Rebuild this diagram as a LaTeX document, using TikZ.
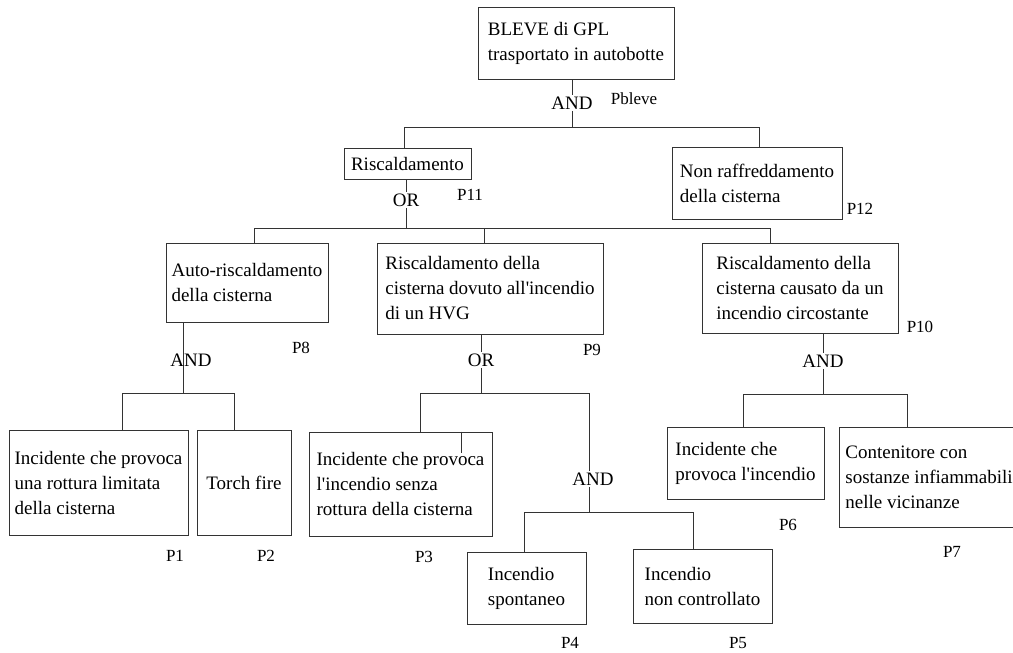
\documentclass[tikz,border=0pt]{standalone}
\usepackage{fontspec}
\setmainfont{Liberation Serif}
\usetikzlibrary{calc}
\tikzset{
  evt/.style={draw=black!80,line width=.8pt,inner sep=0pt,align=left,font=\fontsize{19}{25}\selectfont},
  gate/.style={inner sep=1.5pt,font=\fontsize{19}{22}\selectfont},
  prob/.style={inner sep=0pt,font=\fontsize{17}{20}\selectfont},
  lnk/.style={line width=.8pt,black!80},
}
\newcommand{\ap}{\textquotesingle}

\begin{document}
\begin{tikzpicture}[x=1pt,y=-1pt]
  \useasboundingbox (0,0) rectangle (1013,653);
  \clip (0,0) rectangle (1013,653);
  % events
  \node[evt,minimum width=196,minimum height=72] (top) at (576,43) {BLEVE di GPL\\trasportato in autobotte};
  \node[evt,minimum width=127,minimum height=31] (risc) at (407.5,163.5) {Riscaldamento};
  \node[evt,minimum width=170,minimum height=72] (nonr) at (757,183) {Non raffreddamento\\della cisterna};
  \node[evt,minimum width=162,minimum height=79] (auto) at (247,282.5) {Auto-riscaldamento\\della cisterna};
  \node[evt,minimum width=226,minimum height=91] (hvg) at (490,288.5) {Riscaldamento della\\cisterna dovuto all\ap incendio\\di un HVG};
  \node[evt,minimum width=196,minimum height=90] (circ) at (800,288) {Riscaldamento della\\cisterna causato da un\\incendio circostante};
  \node[evt,minimum width=179,minimum height=105] (e1) at (98.5,482.5) {Incidente che provoca\\una rottura limitata\\della cisterna};
  \node[evt,minimum width=94,minimum height=105] (e2) at (244,482.5) {Torch fire};
  \node[evt,minimum width=183,minimum height=104] (e3) at (400.5,484) {Incidente che provoca\\l\ap incendio senza\\rottura della cisterna};
  \node[evt,minimum width=119,minimum height=72] (e4) at (526.5,588) {Incendio\\spontaneo};
  \node[evt,minimum width=139,minimum height=74] (e5) at (702.5,586) {Incendio\\non controllato};
  \node[evt,minimum width=157,minimum height=72] (e6) at (745.5,463) {Incidente che\\provoca l\ap incendio};
  \node[evt,minimum width=180,minimum height=100] (e7) at (929,477) {Contenitore con\\sostanze infiammabili\\nelle vicinanze};
  % gates
  \node[gate] (gTop) at (572,103) {AND};
  \node[gate] (gRisc) at (406,200) {OR};
  \node[gate] (gHvg) at (481,360) {OR};
  \node[gate] (gCirc) at (823,361) {AND};
  \node[gate] (gInc) at (593,479) {AND};
  % probabilities
  \node[prob] (pb) at (634,99) {Pbleve};
  \node[prob] (p11) at (470,195) {P11};
  \node[prob] (p12) at (860,209) {P12};
  \node[prob] (p8) at (301,348) {P8};
  \node[prob] (p9) at (592,350) {P9};
  \node[prob] (p10) at (920,327) {P10};
  \node[prob] (p1) at (175,556) {P1};
  \node[prob] (p2) at (266,556) {P2};
  \node[prob] (p3) at (424,557) {P3};
  \node[prob] (p4) at (570,643) {P4};
  \node[prob] (p5) at (738,643) {P5};
  \node[prob] (p6) at (788,525) {P6};
  \node[prob] (p7) at (952,552) {P7};
  % bars
  \coordinate (b0l) at (404,127);
  \coordinate (b0r) at (759,127);
  \coordinate (b1l) at (254,228);
  \coordinate (b1m) at (484,228);
  \coordinate (b1r) at (770,228);
  \coordinate (b2l) at (122,393);
  \coordinate (b2m) at (183,393);
  \coordinate (b2r) at (234,393);
  \coordinate (b3l) at (420,393);
  \coordinate (b3r) at (589,393);
  \coordinate (b4l) at (743,394);
  \coordinate (b4r) at (907,394);
  \coordinate (b5l) at (524,512);
  \coordinate (b5m) at (589,512);
  \coordinate (b5r) at (693,512);
  \coordinate (tick) at (461,453);
  \draw[lnk] (top.south -| gTop) -- (gTop.north);
  \draw[lnk] (gTop.south) -- (gTop |- b0l);
  \draw[lnk] (risc.north -| b0l) -- (b0l) -- (b0r) -- (nonr.north -| b0r);
  \draw[lnk] (risc.south -| gRisc) -- (gRisc.north);
  \draw[lnk] (gRisc.south) -- (gRisc |- b1l);
  \draw[lnk] (auto.north -| b1l) -- (b1l) -- (b1r) -- (circ.north -| b1r);
  \draw[lnk] (b1m) -- (hvg.north -| b1m);
  \draw[lnk] (auto.south -| b2m) -- (b2m);
  \node[gate] (gAuto) at (191,360) {AND};
  \draw[lnk] (e1.north -| b2l) -- (b2l) -- (b2r) -- (e2.north -| b2r);
  \draw[lnk] (hvg.south -| gHvg) -- (gHvg.north);
  \draw[lnk] (gHvg.south) -- (gHvg |- b3l);
  \draw[lnk] (e3.north -| b3l) -- (b3l) -- (b3r) -- (b3r |- gInc.north);
  \draw[lnk] (e3.north -| tick) -- (tick);
  \draw[lnk] (b5m |- gInc.south) -- (b5m);
  \draw[lnk] (e4.north -| b5l) -- (b5l) -- (b5r) -- (e5.north -| b5r);
  \draw[lnk] (circ.south -| gCirc) -- (gCirc.north);
  \draw[lnk] (gCirc.south) -- (gCirc |- b4l);
  \draw[lnk] (e6.north -| b4l) -- (b4l) -- (b4r) -- (e7.north -| b4r);
\end{tikzpicture}
\end{document}
